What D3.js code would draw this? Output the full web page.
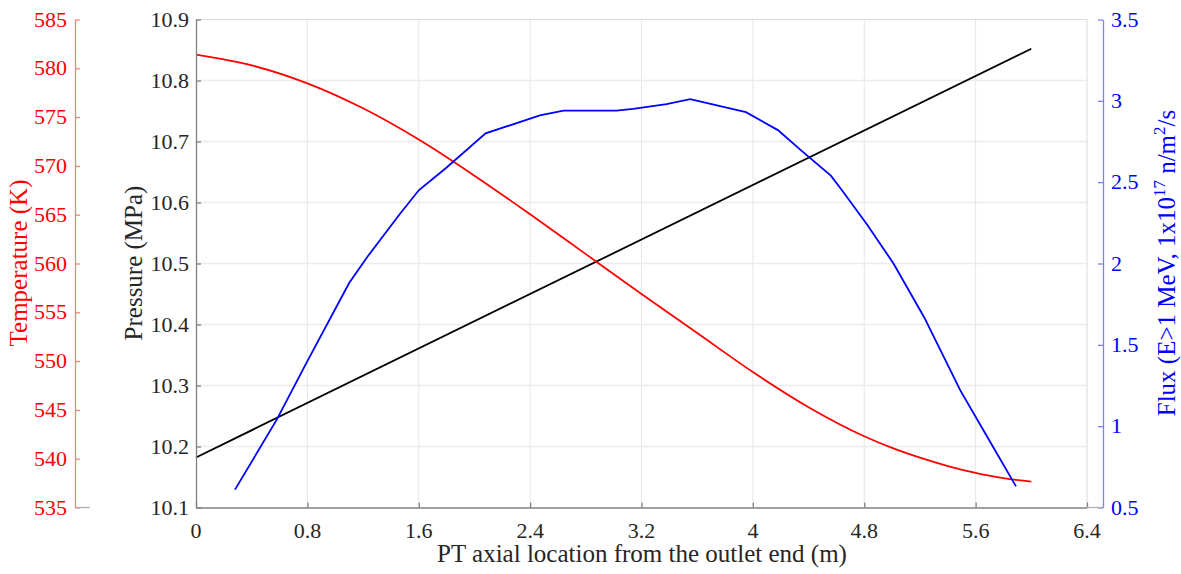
<!DOCTYPE html>
<html><head><meta charset="utf-8">
<script src="https://cdn.jsdelivr.net/npm/d3@7/dist/d3.min.js"></script>
<style>
body{margin:0;background:#fff;}
</style></head>
<body><svg id="c" width="1181" height="574"></svg>
<script>
// ---- data ----
const xTicks = [0, 0.8, 1.6, 2.4, 3.2, 4, 4.8, 5.6, 6.4];
const pTicks = [10.1, 10.2, 10.3, 10.4, 10.5, 10.6, 10.7, 10.8, 10.9];
const tTicks = [535, 540, 545, 550, 555, 560, 565, 570, 575, 580, 585];
const fTicks = [0.5, 1, 1.5, 2, 2.5, 3, 3.5];

const pressureX = [0, 6.0];
const pressureY = [10.182, 10.852];

const tempX = [0, 0.4, 0.8, 1.2, 1.6, 2.0, 2.4, 2.8, 3.2, 3.6, 4.0, 4.4, 4.8, 5.0, 5.2, 5.4, 5.6, 5.8, 6.0];
const tempY = [581.4, 580.3, 578.46, 575.9, 572.7, 569.0, 565.04, 560.96, 556.88, 552.88, 548.88, 545.28, 542.3, 541.1, 540.1, 539.25, 538.55, 538.0, 537.65];

const fluxX = [0.28, 0.58, 0.80, 1.10, 1.23, 1.46, 1.60, 1.80, 2.08, 2.47, 2.64, 3.02, 3.14, 3.38, 3.55, 3.95, 4.18, 4.34, 4.56, 4.64, 4.82, 5.01, 5.23, 5.49, 5.68, 5.89];
const fluxY = [0.61, 1.04, 1.40, 1.88, 2.04, 2.30, 2.45, 2.59, 2.80, 2.91, 2.94, 2.94, 2.95, 2.98, 3.01, 2.93, 2.82, 2.70, 2.54, 2.45, 2.24, 2.00, 1.67, 1.22, 0.94, 0.63];

// ---- layout ----
const L = 196, R = 1087, T = 19.5, B = 507.5;
const redX = 75, blueX = 1103;
const fs = 22, lfs = 25;
const FONT = "Liberation Serif";
const svg = d3.select("#c");

const x = d3.scaleLinear().domain([0, 6.4]).range([L, R]);
const yP = d3.scaleLinear().domain([10.1, 10.9]).range([B, T]);
const yT = d3.scaleLinear().domain([535, 585]).range([B, T]);
const yF = d3.scaleLinear().domain([0.5, 3.5]).range([B, T]);

// grid
const g = svg.append("g");
g.selectAll(".vg").data(xTicks.slice(1, -1)).join("line")
  .attr("x1", d => x(d)).attr("x2", d => x(d)).attr("y1", T).attr("y2", B)
  .attr("stroke", "#e6e6e6").attr("stroke-width", 1);
g.selectAll(".hg").data(pTicks.slice(1, -1)).join("line")
  .attr("x1", L).attr("x2", R).attr("y1", d => yP(d)).attr("y2", d => yP(d))
  .attr("stroke", "#ececec").attr("stroke-width", 1.3);
svg.append("line").attr("x1", L).attr("x2", R).attr("y1", T).attr("y2", T).attr("stroke", "#dcdcdc");
svg.append("line").attr("x1", R).attr("x2", R).attr("y1", T).attr("y2", B).attr("stroke", "#dcdcdc");

// lines
const line = (ys) => d3.line().x(d => x(d[0])).y(d => ys(d[1]));
svg.append("path").datum(pressureX.map((v, i) => [v, pressureY[i]]))
  .attr("d", line(yP)).attr("fill", "none").attr("stroke", "#000").attr("stroke-width", 1.8);
svg.append("path").datum(tempX.map((v, i) => [v, tempY[i]]))
  .attr("d", line(yT).curve(d3.curveMonotoneX)).attr("fill", "none").attr("stroke", "#ff0000").attr("stroke-width", 1.8);
svg.append("path").datum(fluxX.map((v, i) => [v, fluxY[i]]))
  .attr("d", line(yF)).attr("fill", "none").attr("stroke", "#0000ff").attr("stroke-width", 1.8);

function styleAxis(a, lineCol) {
  a.select(".domain").attr("stroke", lineCol).attr("stroke-width", 1.3);
  a.selectAll(".tick line").attr("stroke", lineCol).attr("stroke-width", 1.3);
  a.selectAll(".tick text").remove();
}
function labels(ticks, fmt, px, py, anchor, col) {
  svg.append("g").selectAll("text").data(ticks).join("text")
    .attr("x", px).attr("y", py).attr("text-anchor", anchor)
    .attr("font-family", FONT).attr("font-size", fs).attr("fill", col)
    .text(fmt);
}

const xa = svg.append("g").attr("transform", `translate(0,${B})`)
  .call(d3.axisBottom(x).tickValues(xTicks).tickSizeInner(-5).tickSizeOuter(0));
styleAxis(xa, "#808080");
labels(xTicks, d3.format(""), d => x(d), B + 30, "middle", "#262626");

const pa = svg.append("g").attr("transform", `translate(${L},0)`)
  .call(d3.axisLeft(yP).tickValues(pTicks).tickSizeInner(-5).tickSizeOuter(0));
styleAxis(pa, "#808080");
labels(pTicks, d3.format(".1f"), L - 7, d => yP(d) + 7, "end", "#262626");

const ta = svg.append("g").attr("transform", `translate(${redX},0)`)
  .call(d3.axisLeft(yT).tickValues(tTicks).tickSizeInner(-5).tickSizeOuter(0));
styleAxis(ta, "#ff8080");
labels(tTicks, d3.format("d"), redX - 8, d => yT(d) + 7, "end", "#ff0000");
svg.append("line").attr("x1", redX).attr("x2", redX + 15).attr("y1", B).attr("y2", B).attr("stroke", "#b0b0b0").attr("stroke-width", 1.3);

const fa = svg.append("g").attr("transform", `translate(${blueX},0)`)
  .call(d3.axisRight(yF).tickValues(fTicks).tickSizeInner(-5).tickSizeOuter(0));
styleAxis(fa, "#8080ff");
labels(fTicks, d3.format(""), blueX + 8, d => yF(d) + 7, "start", "#0000ff");
svg.append("line").attr("x1", R).attr("x2", blueX).attr("y1", B).attr("y2", B).attr("stroke", "#b0b0b0").attr("stroke-width", 1.3);

// titles
function title(tx, ty, rot, col) {
  return svg.append("text").attr("transform", `translate(${tx},${ty}) rotate(${rot})`).attr("text-anchor", "middle")
    .attr("font-family", FONT).attr("font-size", lfs).attr("fill", col);
}
title(642, 562, 0, "#262626").text("PT axial location from the outlet end (m)");
title(142, 263, -90, "#262626").text("Pressure (MPa)");
title(27, 263, -90, "#ff0000").text("Temperature (K)");
const ft = title(1175, 263, -90, "#0000ff");
ft.append("tspan").text("Flux (E>1 MeV, 1x10");
ft.append("tspan").attr("dy", -10).attr("font-size", 17).text("17");
ft.append("tspan").attr("dy", 10).text(" n/m");
ft.append("tspan").attr("dy", -10).attr("font-size", 17).text("2");
ft.append("tspan").attr("dy", 10).text("/s");
</script></body></html>
